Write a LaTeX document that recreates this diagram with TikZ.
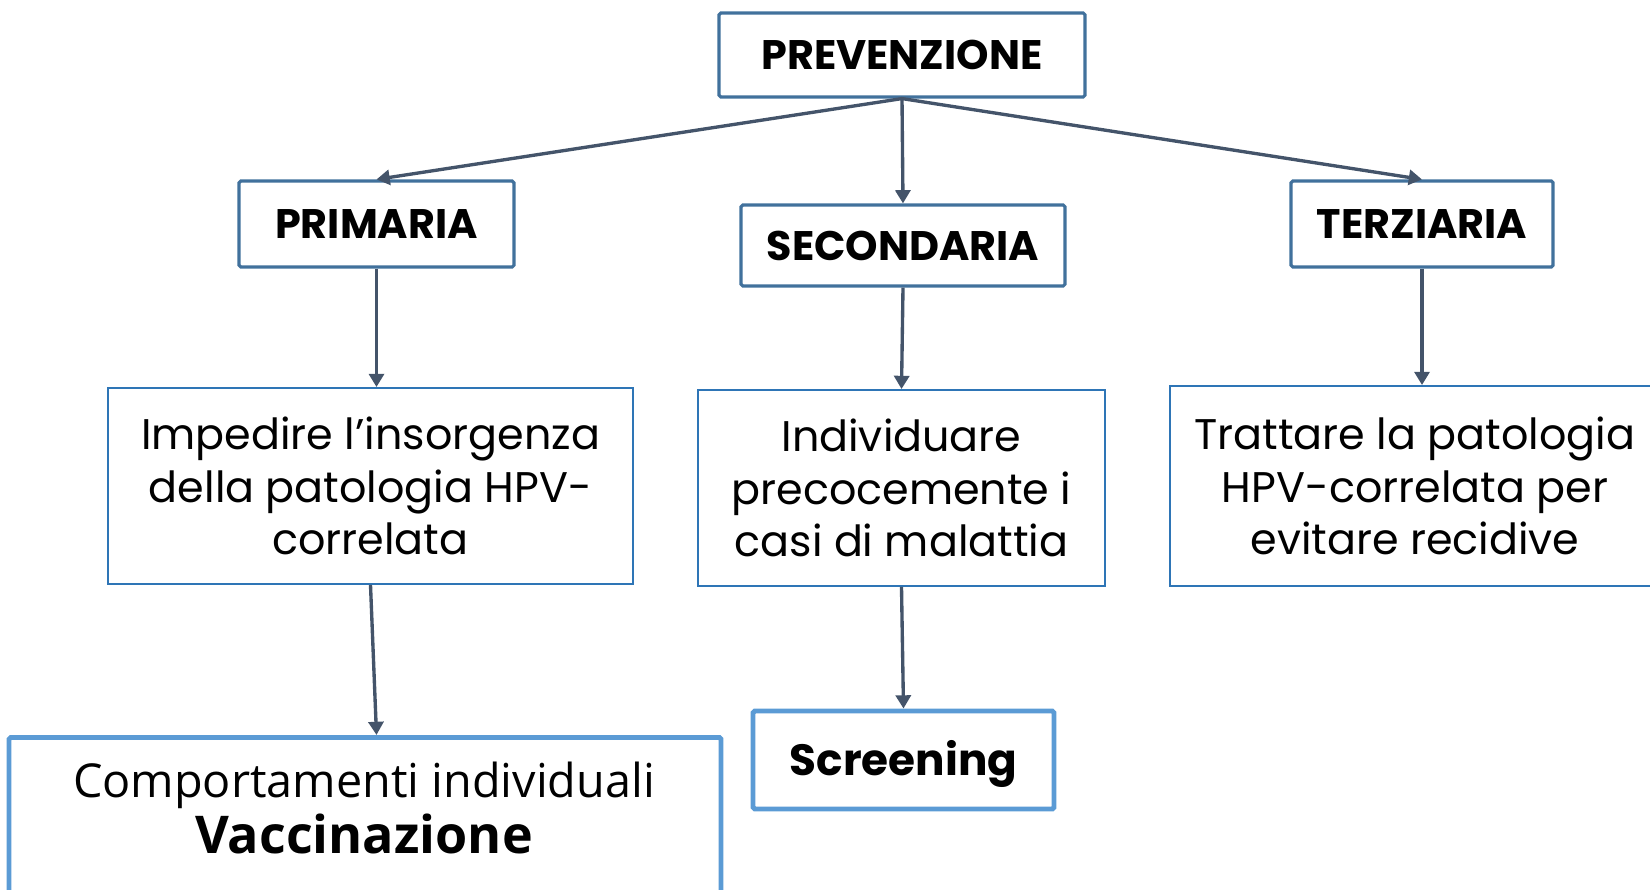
\documentclass[tikz,border=0pt]{standalone}
\usepackage{fontspec}
\setmainfont{Poppins}
\newfontfamily\osans{Open Sans}
\usetikzlibrary{arrows.meta}
\definecolor{hdr}{HTML}{41719C}
\definecolor{mid}{HTML}{2E75B6}
\definecolor{low}{HTML}{5B9BD5}
\definecolor{arr}{HTML}{44546A}
\def\pu{0.5669pt}
\begin{document}
\begin{tikzpicture}[x=0.5669pt, y=-0.5669pt,
  hbox/.style={draw=hdr, line width=1.8pt, fill=white, rounded corners=1pt, inner sep=0pt,
    font=\fontsize{23.4pt}{28pt}\selectfont\bfseries},
  mbox/.style={draw=mid, line width=1.1pt, fill=white, inner sep=0pt, align=center,
    font=\fontsize{24.3pt}{29.6pt}\selectfont},
  lbox/.style={draw=low, line width=2.8pt, fill=white, rounded corners=1pt, inner sep=0pt},
  conn/.style={draw=arr, line width=1.9pt, -{Triangle[length=7.5pt,width=8.5pt]}}]
\useasboundingbox (0,0) rectangle (1650,890);
\node[hbox, minimum width=366*\pu, minimum height=84*\pu] (prev) at (902,55) {PREVENZIONE};
\node[hbox, minimum width=275*\pu, minimum height=86*\pu] (prim) at (376.5,224) {PRIMARIA};
\node[hbox, minimum width=324*\pu, minimum height=81*\pu] (sec) at (903,245.5) {SECONDARIA};
\node[hbox, minimum width=262*\pu, minimum height=86*\pu] (ter) at (1422,224) {TERZIARIA};
\node[mbox, minimum width=525*\pu, minimum height=196*\pu] (imp) at (370.5,486) {Impedire l’insorgenza\\della patologia HPV-\\correlata};
\node[mbox, minimum width=407*\pu, minimum height=196*\pu] (ind) at (901.5,488) {Individuare\\precocemente i\\casi di malattia};
\node[mbox, minimum width=490*\pu, minimum height=200*\pu] (tra) at (1415,486) {Trattare la patologia\\HPV-correlata per\\evitare recidive};
\node[lbox, minimum width=712*\pu, minimum height=180*\pu, anchor=north] (comp) at (365,735) {};
\node[align=center, inner sep=0pt, font=\osans\fontsize{26.5pt}{32pt}\selectfont] (comptxt) at (364,808)
  {Comportamenti individuali\\{\fontsize{29.5pt}{32pt}\selectfont\bfseries Vaccinazione}};
\node[lbox, minimum width=301*\pu, minimum height=98*\pu, font=\fontsize{24.8pt}{28pt}\selectfont\bfseries] (scr) at (903.5,760) {\raisebox{-2.4pt}[\height][\depth]{Screening}};
\draw[conn] (prev.south) -- (prim.north);
\draw[conn] (prev.south) -- (sec.north);
\draw[conn] (prev.south) -- (ter.north);
\draw[conn] (prim.south) -- (imp.north -| prim.south);
\draw[conn] (sec.south) -- (ind.north);
\draw[conn] (ter.south) -- (tra.north -| ter.south);
\draw[conn] (imp.south) -- (comp.north -| prim.south);
\draw[conn] (ind.south) -- (scr.north);
\end{tikzpicture}
\end{document}
